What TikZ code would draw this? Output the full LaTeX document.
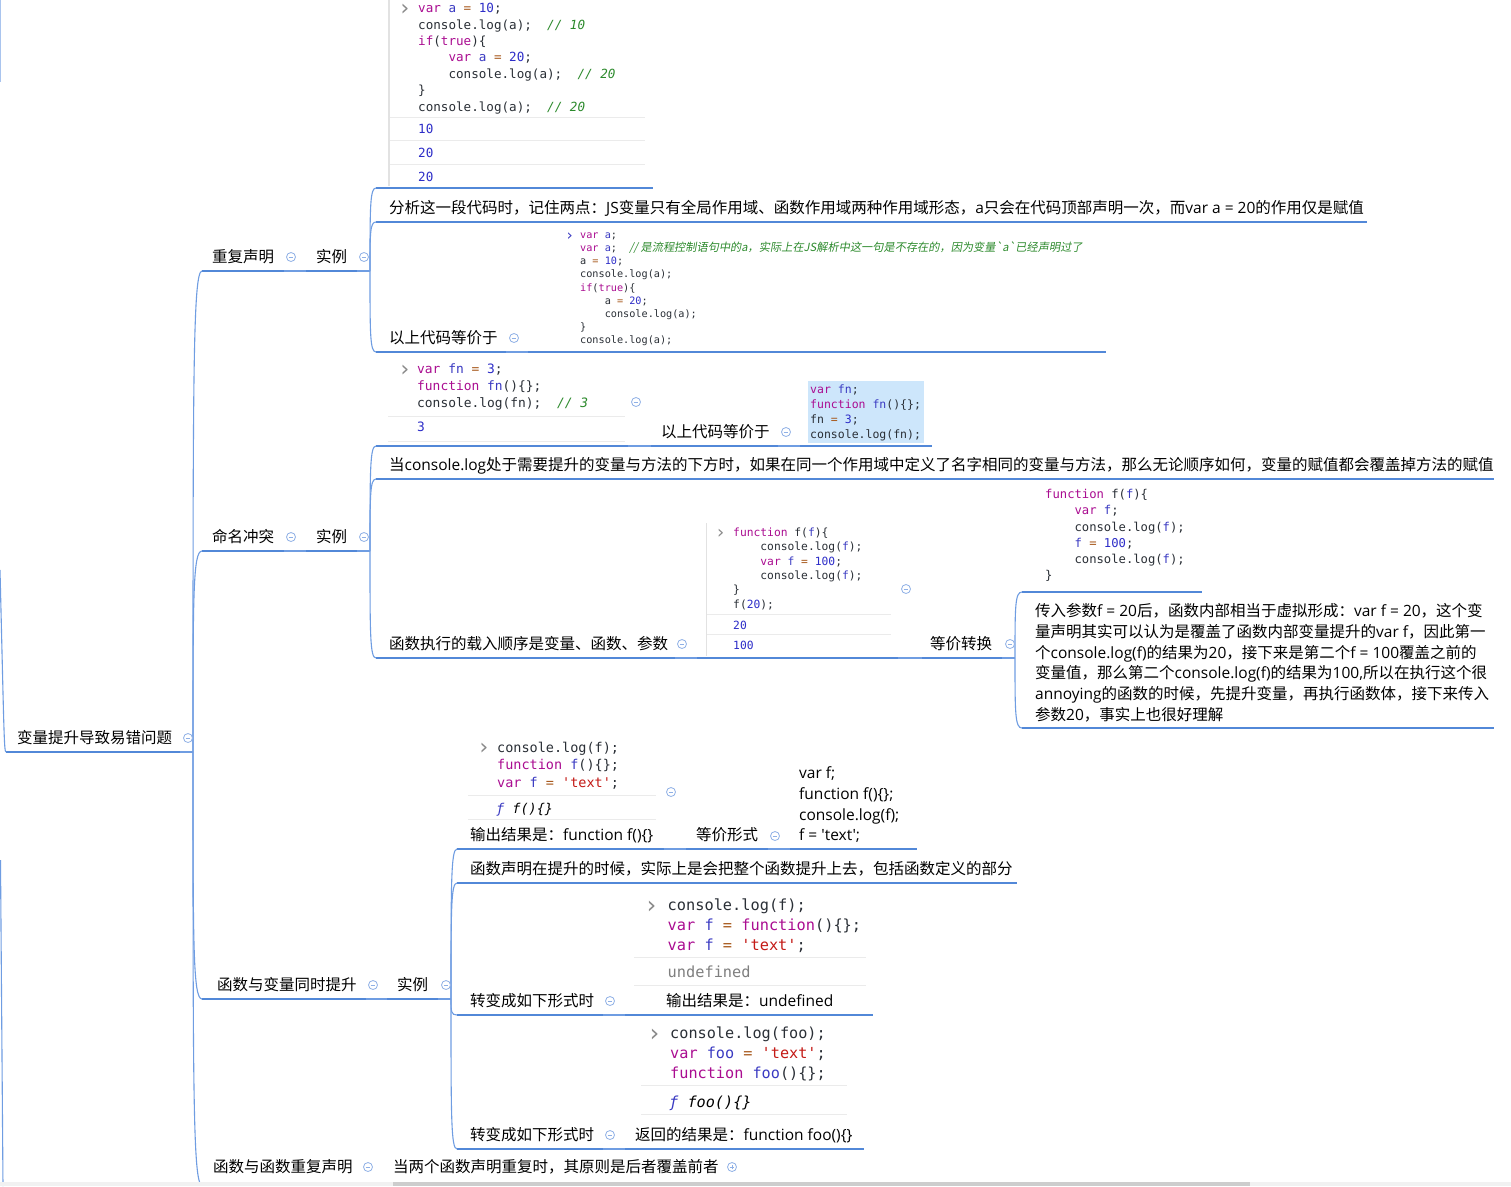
\documentclass[tikz,border=0pt]{standalone}
\usepackage{fontspec}
\usetikzlibrary{calc}
\setmainfont{Open Sans}
\newfontfamily\enfont{Open Sans}[Ligatures=TeXOff]
\newfontfamily\zhfont{Noto Sans CJK SC}[Ligatures=TeXOff]
\newfontfamily\zhslant{Noto Sans CJK SC}[FakeSlant=0.18]
\newfontfamily\mono{DejaVu Sans Mono}[Ligatures=TeXOff]

% colours
\definecolor{ulblue}{HTML}{5288D8}
\definecolor{cnblue}{HTML}{6F9DE2}
\definecolor{foldc}{HTML}{8FB0E6}
\definecolor{kwc}{HTML}{AA0D91}
\definecolor{varc}{HTML}{3A3AC2}
\definecolor{numc}{HTML}{2D2DC8}
\definecolor{opc}{HTML}{A85A1E}
\definecolor{cmtc}{HTML}{2C8A2C}
\definecolor{strc}{HTML}{C41A16}
\definecolor{codetxt}{HTML}{2A2F36}
\definecolor{promptc}{HTML}{8A8A8A}
\definecolor{sepc}{HTML}{EBEBEB}
\definecolor{borderc}{HTML}{E2E2E2}
\definecolor{hlc}{HTML}{CDE6FB}
\definecolor{undefc}{HTML}{7F7F7F}
\definecolor{sbbg}{HTML}{F1F1F1}
\definecolor{sbthumb}{HTML}{CDCDCD}

% CJK characters switch to the CJK face, everything else uses the Latin face
\newXeTeXintercharclass\ZhClass
\newcount\zhcnt
\newcommand\SetZhRange[2]{\zhcnt=#1\relax
  \loop\XeTeXcharclass\zhcnt=\ZhClass\relax
  \ifnum\zhcnt<#2\relax\advance\zhcnt by 1\relax\repeat}
\SetZhRange{"3000}{"303F}
\SetZhRange{"4E00}{"9FFF}
\SetZhRange{"FF00}{"FFEF}
\XeTeXinterchartoks 0 \ZhClass = {\zhfont}
\XeTeXinterchartoks 4095 \ZhClass = {\zhfont}
\XeTeXinterchartoks \ZhClass 0 = {\enfont}
\XeTeXinterchartoks \ZhClass 4095 = {\enfont}

\newcommand\topicfont{\enfont\fontsize{15.5}{20.7}\selectfont\XeTeXinterchartokenstate=1\relax}
\newcommand\codefont[2]{\mono\fontsize{#1}{#2}\selectfont}
\newcommand\promptfont[1]{\mono\fontsize{#1}{#1}\selectfont}

% code colouring
\newcommand\cK[1]{\textcolor{kwc}{#1}}
\newcommand\cV[1]{\textcolor{varc}{#1}}
\newcommand\cN[1]{\textcolor{numc}{#1}}
\newcommand\cO[1]{\textcolor{opc}{#1}}
\newcommand\cC[1]{\textcolor{cmtc}{\itshape #1}}
\newcommand\cS[1]{\textcolor{strc}{#1}}

% topic underline with named ends, and curved branch connector
\newcommand\topicline[4]{\coordinate (#1L) at (#2,#4); \coordinate (#1R) at (#3,#4); \draw[ul] (#1L) -- (#1R);}
\newcommand\branch[2]{\draw[conn] (#1) .. controls ($(#1|-#2)!0.22!(#1)$) and (#1|-#2) .. (#2);}

\tikzset{
  ul/.style={draw=ulblue, line width=2.8pt},
  conn/.style={draw=cnblue, line width=1.1pt},
  sepl/.style={draw=sepc, line width=0.9pt},
  fold/.style={circle, draw=foldc, fill=white, line width=0.8pt, minimum size=9pt, inner sep=0pt,
    path picture={\draw[foldc, line width=0.9pt]
      ([xshift=-2.3pt]path picture bounding box.center) -- ([xshift=2.3pt]path picture bounding box.center);}},
  unfold/.style={fold,
    path picture={\draw[foldc, line width=0.9pt]
      ([xshift=-2.3pt]path picture bounding box.center) -- ([xshift=2.3pt]path picture bounding box.center)
      ([yshift=-2.3pt]path picture bounding box.center) -- ([yshift=2.3pt]path picture bounding box.center);}},
  topic/.style={anchor=base west, inner sep=0pt, text=black, font=\topicfont},
  topicblk/.style={anchor=north west, inner sep=0pt, align=left, text=black, font=\topicfont},
  codeblk/.style={anchor=north west, inner sep=0pt, align=left, text=codetxt},
  outl/.style={anchor=base west, inner sep=0pt},
  prompt/.style={anchor=base west, inner sep=0pt, text=promptc, font=\promptfont{22}},
}

\begin{document}
\begin{tikzpicture}[x=1pt, y=-1pt]
\useasboundingbox (0,0) rectangle (1511,1186);
\fill[white] (0,0) rectangle (1511,1186);

% ---------- connectors coming from the left edge ----------
\coordinate (edgeTop) at (0.8,0);
\coordinate (edgeTopEnd) at (0.8,82);
\draw[draw=cnblue!60, line width=1.2pt] (edgeTop) -- (edgeTopEnd);
\coordinate (edgeMid) at (0,570);
\coordinate (edgeLow) at (0.5,860);
\coordinate (edgeBot) at (3,1186);
\draw[conn] (edgeLow) -- (edgeBot);

% ---------- root ----------
\node[topic] (root) at (17,743) {变量提升导致易错问题};
\topicline{root}{6}{180}{752}
\draw[conn] (edgeMid) .. controls (4,730) and (4,752) .. (rootL);
\coordinate (J0) at (193,752);
\draw[conn] (rootR) -- (J0);

% ---------- level one ----------
\node[topic] (cf) at (212,262) {重复声明};
\topicline{cf}{202}{284}{271}
\node[topic] (sl1) at (316,262) {实例};
\topicline{sl1}{306}{357}{271}
\coordinate (J1) at (370,271);
\draw[conn] (cfR) -- (sl1L);
\draw[conn] (sl1R) -- (J1);

\node[topic] (nc) at (212,542) {命名冲突};
\topicline{nc}{202}{284}{551}
\node[topic] (sl2) at (316,542) {实例};
\topicline{sl2}{306}{357}{551}
\coordinate (J2) at (370,551);
\draw[conn] (ncR) -- (sl2L);
\draw[conn] (sl2R) -- (J2);

\node[topic] (fv) at (217,990) {函数与变量同时提升};
\topicline{fv}{202}{366}{999}
\node[topic] (sl3) at (397,990) {实例};
\topicline{sl3}{387}{438}{999}
\coordinate (J3) at (451,999);
\draw[conn] (fvR) -- (sl3L);
\draw[conn] (sl3R) -- (J3);

\node[topic] (ff) at (213,1172) {函数与函数重复声明};
\topicline{ff}{202}{358}{1185}
\node[topic] (ffn) at (393,1172) {当两个函数声明重复时，其原则是后者覆盖前者};
\topicline{ffn}{383}{724}{1185}
\draw[conn] (ffR) -- (ffnL);

\branch{J0}{cfL}
\branch{J0}{ncL}
\branch{J0}{fvL}
\branch{J0}{ffL}

% ---------- 重复声明 / 实例 ----------
% console screenshot
\draw[draw=borderc, line width=1.8pt] (389,0) -- (389,186);
\node[prompt] (pA1) at (398,15.5) {›};
\node[codeblk, font=\codefont{12.6}{16.4}] (codeA1) at (418,2.4) {\rule{0pt}{0.8em}\cK{var} \cV{a} \cO{=} \cN{10};\\
console.log(a);~~\cC{// 10}\\
\cK{if}(\cK{true})\{\\
~~~~\cK{var} \cV{a} \cO{=} \cN{20};\\
~~~~console.log(a);~~\cC{// 20}\\
\}\\
console.log(a);~~\cC{// 20}};
\draw[sepl] (390,117) -- (645,117);
\draw[sepl] (390,140.5) -- (645,140.5);
\draw[sepl] (390,164) -- (645,164);
\node[outl, text=numc, font=\codefont{12.6}{16.4}] (oA1a) at (418,133.5) {10};
\node[outl, text=numc, font=\codefont{12.6}{16.4}] (oA1b) at (418,157) {20};
\node[outl, text=numc, font=\codefont{12.6}{16.4}] (oA1c) at (418,181) {20};
\topicline{imgA}{376}{653}{188}
\branch{J1}{imgAL}

\node[topic] (b1) at (389,213) {分析这一段代码时，记住两点：JS变量只有全局作用域、函数作用域两种作用域形态，a只会在代码顶部声明一次，而var a = 20的作用仅是赋值};
\topicline{b1}{376}{1367}{222}
\branch{J1}{b1L}

\node[topic] (c1) at (389,343) {以上代码等价于};
\topicline{c1}{376}{506}{352}
\topicline{c1img}{528}{1106}{352}
\draw[conn] (c1R) -- (c1imgL);
\branch{J1}{c1L}
\node[prompt, text=varc, font=\promptfont{15}] (pC1) at (565,240) {›};
\node[codeblk, font=\codefont{10.2}{13.1}] (codeC1) at (580,230.3) {\rule{0pt}{0.8em}\cK{var} \cV{a};\\
\cK{var} \cV{a};~~{\color{cmtc}\zhslant\fontsize{11.2}{13.1}\selectfont // 是流程控制语句中的a，实际上在JS解析中这一句是不存在的，因为变量`a`已经声明过了}\\
a \cO{=} \cN{10};\\
console.log(a);\\
\cK{if}(\cK{true})\{\\
~~~~a \cO{=} \cN{20};\\
~~~~console.log(a);\\
\}\\
console.log(a);};

% ---------- 命名冲突 / 实例 ----------
\node[prompt] (pA2) at (398,376.5) {›};
\node[codeblk, font=\codefont{12.9}{17}] (codeA2) at (417,363.2) {\rule{0pt}{0.8em}\cK{var} \cV{fn} \cO{=} \cN{3};\\
\cK{function} \cV{fn}()\{\};\\
console.log(fn);~~\cC{// 3}};
\draw[sepl] (388,416) -- (625,416);
\draw[sepl] (388,441) -- (625,441);
\node[outl, text=numc, font=\codefont{12.9}{17}] (oA2) at (417,431.5) {3};
\topicline{a2}{376}{628}{446}
\branch{J2}{a2L}

\node[topic] (n2) at (661,437) {以上代码等价于};
\topicline{n2}{651}{778}{446}
\draw[conn] (a2R) -- (n2L);
\fill[hlc] (808,381) rectangle (924,443);
\node[codeblk, font=\codefont{11.5}{15}] (codeHL) at (810,383.8) {\rule{0pt}{0.8em}\cK{var} \cV{fn};\\
\cK{function} \cV{fn}()\{\};\\
fn \cO{=} \cN{3};\\
console.log(fn);};
\topicline{hl}{800}{932}{446}
\draw[conn] (n2R) -- (hlL);

\node[topic] (b2) at (389,470) {当console.log处于需要提升的变量与方法的下方时，如果在同一个作用域中定义了名字相同的变量与方法，那么无论顺序如何，变量的赋值都会覆盖掉方法的赋值};
\topicline{b2}{376}{1494}{479}
\branch{J2}{b2L}

\node[topic] (c2) at (389,649) {函数执行的载入顺序是变量、函数、参数};
\topicline{c2}{376}{675}{658}
\branch{J2}{c2L}
\draw[draw=borderc, line width=1.5pt] (706.5,523) -- (706.5,656);
\node[prompt, font=\promptfont{18}] (pC2) at (715,538) {›};
\node[codeblk, font=\codefont{11.3}{14.4}] (codeC2) at (733,527) {\rule{0pt}{0.8em}\cK{function} f(\cV{f})\{\\
~~~~console.log(\cV{f});\\
~~~~\cK{var} \cV{f} \cO{=} \cN{100};\\
~~~~console.log(\cV{f});\\
\}\\
f(\cN{20});};
\draw[sepl] (707,614) -- (891,614);
\draw[sepl] (707,634.5) -- (891,634.5);
\node[outl, text=numc, font=\codefont{11.3}{14.4}] (oC2a) at (733,629) {20};
\node[outl, text=numc, font=\codefont{11.3}{14.4}] (oC2b) at (733,649.5) {100};
\topicline{imgc2}{697}{898}{658}
\draw[conn] (c2R) -- (imgc2L);

\node[topic] (eq) at (930,649) {等价转换};
\topicline{eq}{922}{1002}{658}
\draw[conn] (imgc2R) -- (eqL);
\coordinate (J2b) at (1015,658);
\draw[conn] (eqR) -- (J2b);

\node[codeblk, font=\codefont{12.2}{16.2}] (codeRC) at (1045,488.7) {\rule{0pt}{0.8em}\cK{function} f(\cV{f})\{\\
~~~~\cK{var} \cV{f};\\
~~~~console.log(\cV{f});\\
~~~~\cV{f} \cO{=} \cN{100};\\
~~~~console.log(\cV{f});\\
\}};
\topicline{rc}{1022}{1202}{592}
\branch{J2b}{rcL}

\node[topicblk] (par) at (1035,601.8) {\rule{0pt}{0.95em}传入参数f = 20后，函数内部相当于虚拟形成：var f = 20，这个变\\
量声明其实可以认为是覆盖了函数内部变量提升的var f，因此第一\\
个console.log(f)的结果为20，接下来是第二个f = 100覆盖之前的\\
变量值，那么第二个console.log(f)的结果为100,所以在执行这个很\\
annoying的函数的时候，先提升变量，再执行函数体，接下来传入\\
参数20，事实上也很好理解};
\topicline{par}{1022}{1494}{728}
\branch{J2b}{parL}

% ---------- 函数与变量同时提升 / 实例 ----------
\node[prompt] (pA3) at (477,754.5) {›};
\node[codeblk, font=\codefont{13.5}{17.5}] (codeA3) at (497,741.2) {\rule{0pt}{0.8em}console.log(f);\\
\cK{function} \cV{f}()\{\};\\
\cK{var} \cV{f} \cO{=} \cS{'text'};};
\draw[sepl] (468,795) -- (656,795);
\draw[sepl] (468,819) -- (656,819);
\node[outl, font=\codefont{13.5}{17.5}\itshape] (oA3) at (496,813) {\textcolor{varc}{ƒ} f()\{\}};
\node[topic] (a3) at (470,840) {输出结果是：function f()\{\}};
\topicline{a3}{457}{664}{849}
\branch{J3}{a3L}

\node[topic] (ef) at (696,840) {等价形式};
\topicline{ef}{686}{768}{849}
\draw[conn] (a3R) -- (efL);
\node[topicblk] (vf) at (799,763.8) {\rule{0pt}{0.95em}var f;\\
function f()\{\};\\
console.log(f);\\
f = 'text';};
\topicline{vf}{790}{917}{849}
\draw[conn] (efR) -- (vfL);

\node[topic] (b3) at (470,874) {函数声明在提升的时候，实际上是会把整个函数提升上去，包括函数定义的部分};
\topicline{b3}{457}{1017}{883}
\branch{J3}{b3L}

\node[topic] (c3) at (470,1006) {转变成如下形式时};
\topicline{c3}{457}{603}{1015}
\branch{J3}{c3L}
\node[prompt, font=\promptfont{24}] (pC3) at (644,913) {›};
\node[codeblk, font=\codefont{15.3}{20}] (codeC3) at (667.5,898.3) {\rule{0pt}{0.8em}console.log(f);\\
\cK{var} \cV{f} \cO{=} \cK{function}()\{\};\\
\cK{var} \cV{f} \cO{=} \cS{'text'};};
\draw[sepl] (634,957) -- (866,957);
\draw[sepl] (634,985.5) -- (866,985.5);
\node[outl, text=undefc, font=\codefont{15.3}{20}] (oC3) at (667.5,977.5) {undefined};
\node[topic] (c3o) at (666,1006) {输出结果是：undefined};
\topicline{c3o}{625}{873}{1015}
\draw[conn] (c3R) -- (c3oL);

\node[topic] (d3) at (470,1140) {转变成如下形式时};
\topicline{d3}{457}{603}{1149}
\branch{J3}{d3L}
\node[prompt, font=\promptfont{24}] (pD3) at (647,1041) {›};
\node[codeblk, font=\codefont{15.2}{19.7}] (codeD3) at (670,1026.3) {\rule{0pt}{0.8em}console.log(foo);\\
\cK{var} \cV{foo} \cO{=} \cS{'text'};\\
\cK{function} \cV{foo}()\{\};};
\draw[sepl] (641,1085) -- (847,1085);
\draw[sepl] (641,1114.5) -- (847,1114.5);
\node[outl, font=\codefont{15.2}{19.7}\itshape] (oD3) at (669,1107) {\textcolor{varc}{ƒ} foo()\{\}};
\node[topic] (d3o) at (635,1140) {返回的结果是：function foo()\{\}};
\topicline{d3o}{625}{864}{1149}
\draw[conn] (d3R) -- (d3oL);

% ---------- collapse markers ----------
\node[fold] (fRoot) at (188,738) {};
\node[fold] (fCf) at (291,257) {};
\node[fold] (fSl1) at (364,257) {};
\node[fold] (fC1) at (514,338) {};
\node[fold] (fNc) at (291,537) {};
\node[fold] (fSl2) at (364,537) {};
\node[fold] (fA2) at (636,402) {};
\node[fold] (fN2) at (786,432) {};
\node[fold] (fC2) at (682,644) {};
\node[fold] (fImgC2) at (906,589) {};
\node[fold] (fEq) at (1010,644) {};
\node[fold] (fFv) at (373,985) {};
\node[fold] (fSl3) at (446,985) {};
\node[fold] (fA3) at (671,792) {};
\node[fold] (fEf) at (775,836) {};
\node[fold] (fC3) at (610,1001) {};
\node[fold] (fD3) at (610,1135) {};
\node[fold] (fFf) at (368,1167) {};
\node[unfold] (fFfn) at (732,1167) {};

% ---------- scrollbar ----------
\fill[sbbg] (0,1182) rectangle (1511,1186);
\fill[sbthumb] (393,1182) rectangle (1250,1186);
\end{tikzpicture}
\end{document}
